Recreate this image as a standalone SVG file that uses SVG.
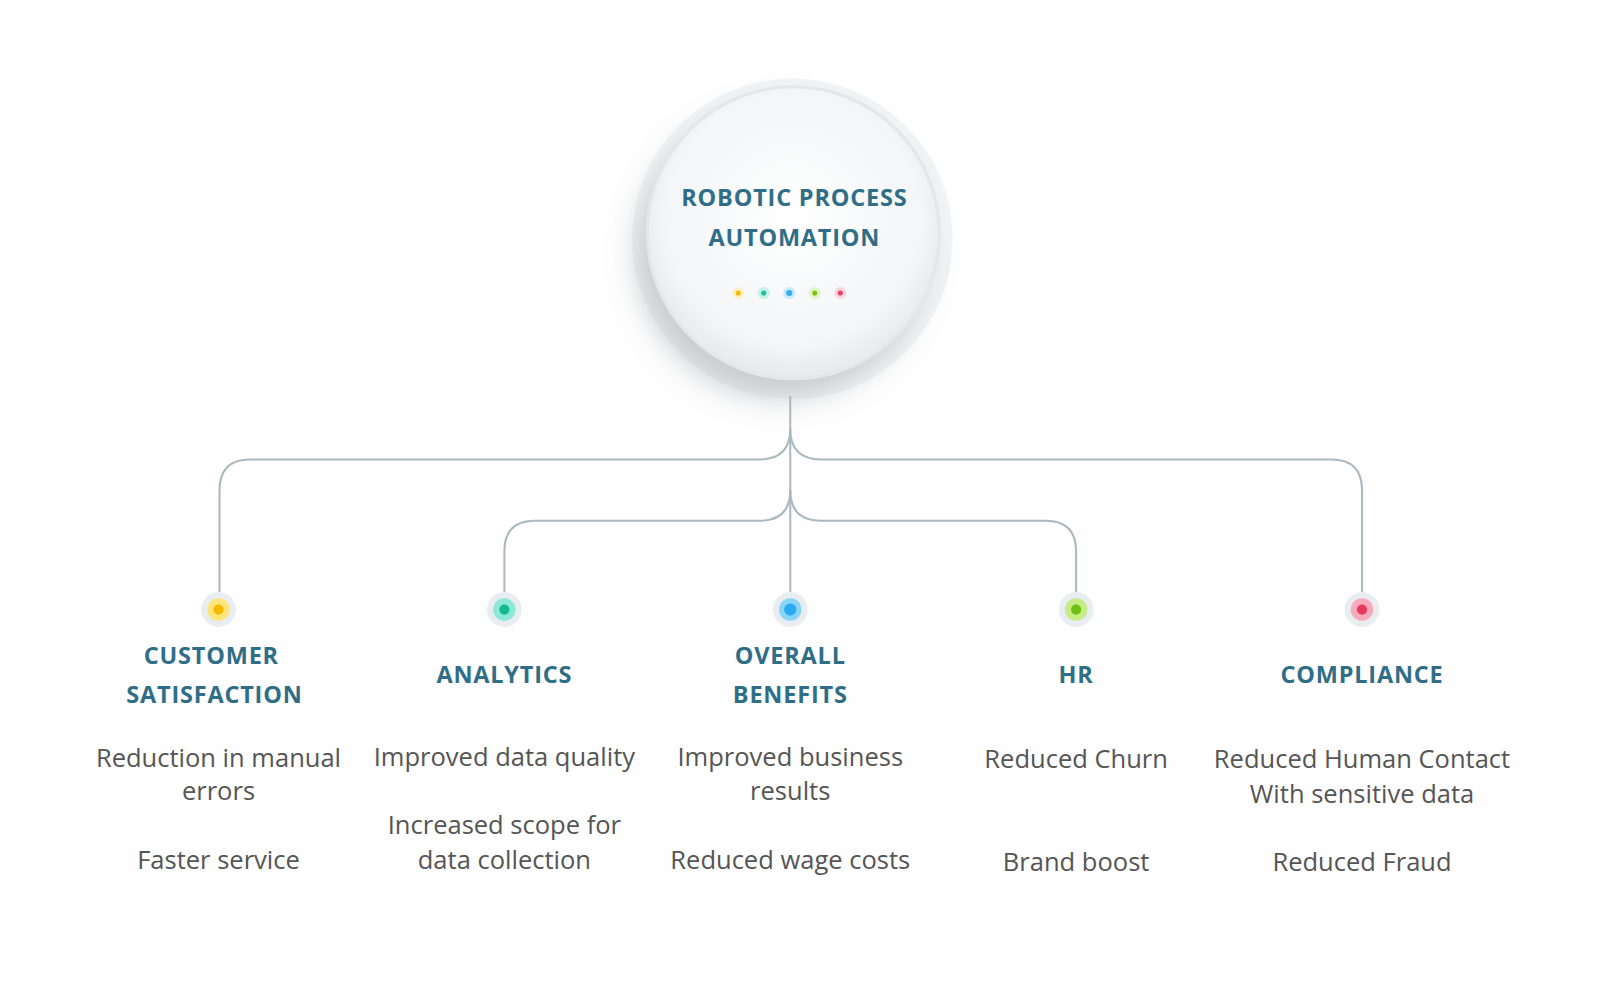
<svg xmlns="http://www.w3.org/2000/svg" width="1600" height="982" viewBox="0 0 1600 982">
<style>
.h{font-family:"Open Sans","Liberation Sans",sans-serif;font-weight:bold;font-size:23px;fill:#2f6e86;text-anchor:middle;letter-spacing:0.8px}
.b{font-family:"Open Sans","Liberation Sans",sans-serif;font-size:25px;fill:#555;text-anchor:middle}
.c{fill:none;stroke:#aab8c0;stroke-width:2}
.halo{fill:#e8edf2}
</style>
<defs>
<radialGradient id="g" cx="0.5" cy="0.45" r="0.55"><stop offset="0" stop-color="#ffffff"/><stop offset="0.8" stop-color="#f3f5f6"/><stop offset="1" stop-color="#e6e9eb"/></radialGradient>
<filter id="sh" x="-40%" y="-40%" width="180%" height="180%"><feGaussianBlur stdDeviation="14"/></filter>
</defs>
<rect width="1600" height="982" fill="#fefefe"/>
<g transform="scale(1.021)">
<g id="center">
<circle cx="776" cy="234" r="157" fill="#f2f3f4"/>
<circle cx="765" cy="248" r="142" fill="#bfc3c6" filter="url(#sh)" opacity="0.8"/>
<circle cx="777" cy="228" r="143" fill="url(#g)" stroke="#e4e7e9" stroke-width="3"/>
<text class="h" x="778" y="202">ROBOTIC PROCESS</text>
<text class="h" x="778" y="241">AUTOMATION</text>
<circle cx="723" cy="287" r="6" fill="#fdf0c8"/><circle cx="723" cy="287" r="2.5" fill="#f5b800"/>
<circle cx="748" cy="287" r="6" fill="#c8f2ea"/><circle cx="748" cy="287" r="2.5" fill="#1cbfa0"/>
<circle cx="773" cy="287" r="6" fill="#c8e9fa"/><circle cx="773" cy="287" r="3" fill="#33aef0"/>
<circle cx="798" cy="287" r="6" fill="#e3f5c8"/><circle cx="798" cy="287" r="2.5" fill="#7bc416"/>
<circle cx="823" cy="287" r="6" fill="#fbd6de"/><circle cx="823" cy="287" r="2.5" fill="#e8436a"/>
</g>
<g id="connectors">
<path class="c" d="M774 388 V580"/>
<path class="c" d="M774 420 Q774 450 744 450 H245 Q215 450 215 480 V580"/>
<path class="c" d="M774 420 Q774 450 804 450 H1304 Q1334 450 1334 480 V580"/>
<path class="c" d="M774 480 Q774 510 744 510 H524 Q494 510 494 540 V580"/>
<path class="c" d="M774 480 Q774 510 804 510 H1024 Q1054 510 1054 540 V580"/>
</g>
<g id="customer">
<circle class="halo" cx="214" cy="597" r="17"/><circle cx="214" cy="597" r="11" fill="#fde57a"/><circle cx="214" cy="597" r="5" fill="#f5b800"/>
<text class="h" x="207" y="650">CUSTOMER</text><text class="h" x="210" y="689">SATISFACTION</text>
<text class="b" x="214" y="751">Reduction in manual</text><text class="b" x="214" y="784">errors</text>
<text class="b" x="214" y="851">Faster service</text>
</g>
<g id="analytics">
<circle class="halo" cx="494" cy="597" r="17"/><circle cx="494" cy="597" r="11" fill="#8ee8d6"/><circle cx="494" cy="597" r="5" fill="#14b894"/>
<text class="h" x="494" y="669">ANALYTICS</text>
<text class="b" x="494" y="750">Improved data quality</text>
<text class="b" x="494" y="817">Increased scope for</text><text class="b" x="494" y="851">data collection</text>
</g>
<g id="overall">
<circle class="halo" cx="774" cy="597" r="17"/><circle cx="774" cy="597" r="11" fill="#8ad4f7"/><circle cx="774" cy="597" r="6" fill="#2aaaf0"/>
<text class="h" x="774" y="650">OVERALL</text><text class="h" x="774" y="689">BENEFITS</text>
<text class="b" x="774" y="750">Improved business</text><text class="b" x="774" y="784">results</text>
<text class="b" x="774" y="851">Reduced wage costs</text>
</g>
<g id="hr">
<circle class="halo" cx="1054" cy="597" r="17"/><circle cx="1054" cy="597" r="11" fill="#c6ec86"/><circle cx="1054" cy="597" r="5" fill="#6fbf12"/>
<text class="h" x="1054" y="669">HR</text>
<text class="b" x="1054" y="752">Reduced Churn</text>
<text class="b" x="1054" y="853">Brand boost</text>
</g>
<g id="compliance">
<circle class="halo" cx="1334" cy="597" r="17"/><circle cx="1334" cy="597" r="11" fill="#f8aabd"/><circle cx="1334" cy="597" r="5" fill="#e6395f"/>
<text class="h" x="1334" y="669">COMPLIANCE</text>
<text class="b" x="1334" y="752">Reduced Human Contact</text><text class="b" x="1334" y="786">With sensitive data</text>
<text class="b" x="1334" y="853">Reduced Fraud</text>
</g>
</g>
</svg>
